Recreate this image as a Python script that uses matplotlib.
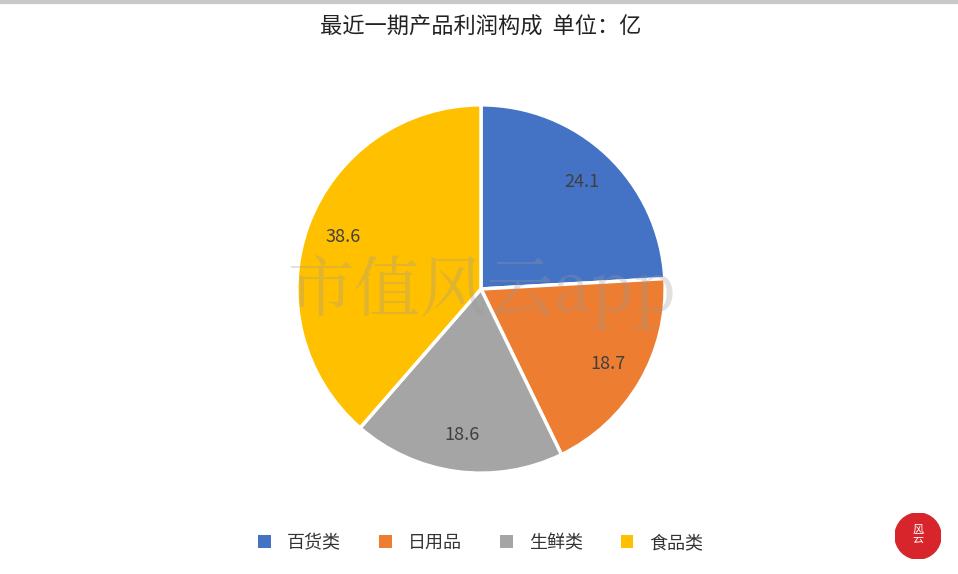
import matplotlib
matplotlib.use("Agg")
import matplotlib.pyplot as plt
from matplotlib.patches import Patch, Circle

plt.rcParams['font.family'] = ['Noto Sans CJK SC', 'DejaVu Sans']

categories = ['百货类', '日用品', '生鲜类', '食品类']
values = [24.1, 18.7, 18.6, 38.6]
colors = ['#4472C4', '#ED7D31', '#A5A5A5', '#FFC000']
title = '最近一期产品利润构成  单位：亿'

W, H = 958, 574
fig = plt.figure(figsize=(W / 100, H / 100), dpi=100, facecolor='white')

# top border line
fig.add_artist(plt.Line2D([0, 1], [1 - 2 / H, 1 - 2 / H], color='#c8c8c8', lw=3))

cx, cy, r = 481, 289, 186
ax = fig.add_axes([(cx - r) / W, (H - cy - r) / H, 2 * r / W, 2 * r / H])
wedges, texts = ax.pie(values, colors=colors, startangle=90, counterclock=False,
                       labels=[f'{v:.1f}' for v in values], labeldistance=0.8,
                       wedgeprops=dict(edgecolor='white', linewidth=2.5),
                       textprops=dict(fontsize=13, color='#404040', ha='center', va='center'))
ax.set_xlim(-1.01, 1.01)
ax.set_ylim(-1.01, 1.01)
ax.set_aspect('equal')
ax.axis('off')

fig.text(cx / W, 1 - 27 / H, title, ha='center', va='center', fontsize=16, color='#222222')

# watermark
fig.text(482 / W, 1 - 292 / H, '市值风云app', ha='center', va='center', fontsize=48,
         color='#9a9a9a', alpha=0.3, family=['Noto Serif CJK SC', 'Noto Sans CJK SC', 'DejaVu Serif'])

handles = [Patch(facecolor=c, edgecolor='none') for c in colors]
fig.legend(handles, categories, loc='center', bbox_to_anchor=(481 / W, 1 - 543 / H), ncol=4,
           frameon=False, fontsize=13, handlelength=0.7, handleheight=0.7, columnspacing=2.1,
           handletextpad=0.9, labelcolor='#333333')

# logo
lax = fig.add_axes([(918 - 23) / W, (H - 536 - 23) / H, 46 / W, 46 / H])
lax.add_patch(Circle((0, 0), 1, color='#d8252b'))
lax.text(0, 0.05, '风\n云', ha='center', va='center', fontsize=8, color='white', linespacing=0.9)
lax.set_xlim(-1, 1)
lax.set_ylim(-1, 1)
lax.set_aspect('equal')
lax.axis('off')

fig.savefig('out.png', dpi=100, facecolor='white')
